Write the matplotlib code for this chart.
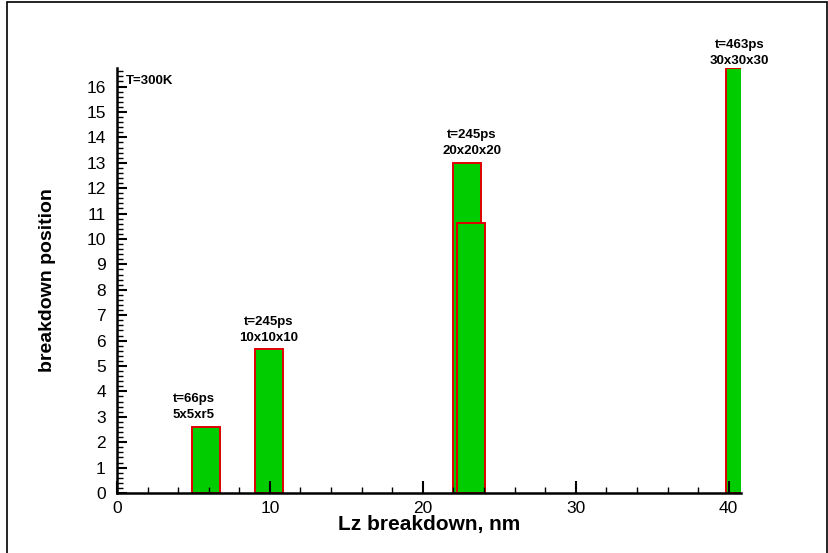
import matplotlib.pyplot as plt
from matplotlib.patches import Rectangle
from matplotlib.ticker import MultipleLocator

plt.rcParams['font.family'] = ['Liberation Sans', 'DejaVu Sans']

# breakdown runs: left edge of bar (nm), bar width, breakdown position
lz_left = [4.9, 9.0, 21.94, 22.22, 39.8]
lz_width = [1.83, 1.83, 1.83, 1.85, 1.9]
position = [2.6, 5.68, 13.0, 10.62, 16.73]

# run labels: x centre, time, grid size, y of upper line
label_x = [5.0, 9.9, 23.2, 40.7]
label_t = ['t=66ps', 't=245ps', 't=245ps', 't=463ps']
label_grid = ['5x5xr5', '10x10x10', '20x20x20', '30x30x30']
label_y = [3.45, 6.5, 13.85, 17.4]

fig = plt.figure(figsize=(8.29, 5.53), dpi=100)
ax = fig.add_axes([0.1411, 0.1085, 0.7527, 0.7685])

ax.bar(lz_left, position, width=lz_width, align='edge',
       color='#00cc00', edgecolor='#e00000', linewidth=1.4)

for x, t, g, y in zip(label_x, label_t, label_grid, label_y):
    ax.text(x, y, t, ha='center', va='bottom', fontsize=9.5,
            fontweight='bold', clip_on=False)
    ax.text(x, y - 0.62, g, ha='center', va='bottom', fontsize=9.5,
            fontweight='bold', clip_on=False)

ax.text(0.6, 16.2, 'T=300K', ha='left', va='center', fontsize=9.5,
        fontweight='bold')

ax.set_xlim(0, 40.8)
ax.set_ylim(0, 16.73)
ax.xaxis.set_major_locator(MultipleLocator(10))
ax.xaxis.set_minor_locator(MultipleLocator(2))
ax.yaxis.set_major_locator(MultipleLocator(1))
ax.yaxis.set_minor_locator(MultipleLocator(0.2))

for s in ['top', 'right']:
    ax.spines[s].set_visible(False)
for s in ['left', 'bottom']:
    ax.spines[s].set_linewidth(1.8)
    ax.spines[s].set_zorder(3)

ax.tick_params(which='major', direction='in', length=9, width=1.5,
               labelsize=12.5)
ax.tick_params(which='minor', direction='in', length=4.5, width=1.0)
ax.tick_params(axis='y', which='major', length=7, pad=8)
ax.tick_params(axis='x', which='major', pad=6)

ax.set_xlabel('Lz breakdown, nm', fontsize=15, fontweight='bold', labelpad=-1)
ax.set_ylabel('breakdown position', fontsize=14, fontweight='bold', labelpad=22)

# outer frame around the figure
fig.patches.append(Rectangle((0.008, -0.01), 0.99, 1.006, transform=fig.transFigure,
                             fill=False, edgecolor='black', linewidth=1.2))

fig.savefig('out.png', dpi=100)
